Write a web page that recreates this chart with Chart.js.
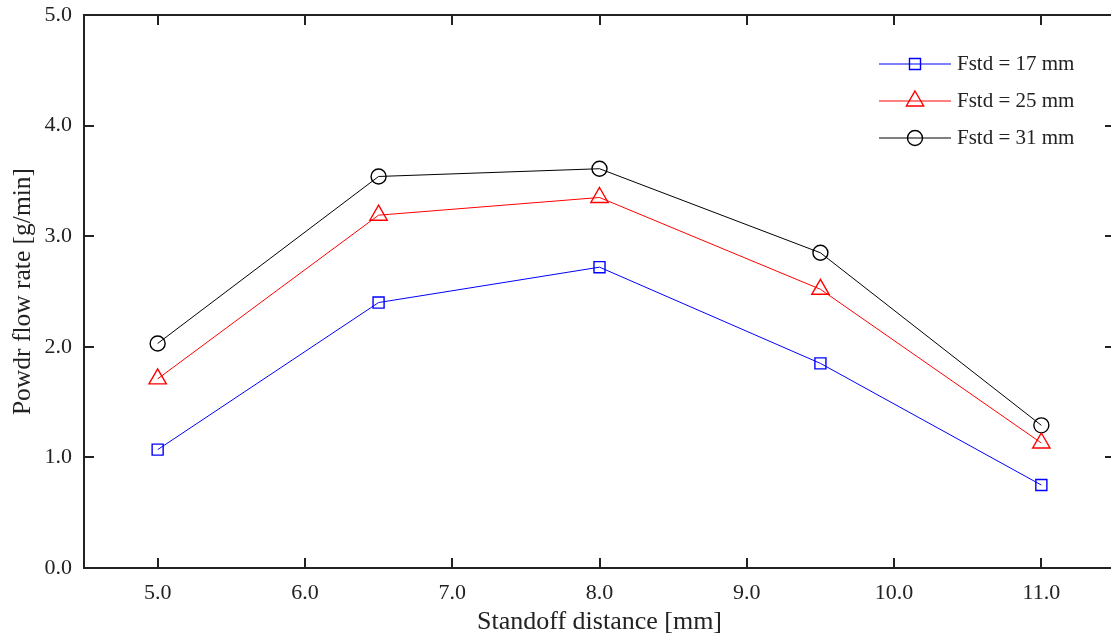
<!DOCTYPE html>
<html>
<head>
<meta charset="utf-8">
<script src="https://cdn.jsdelivr.net/npm/chart.js@4/dist/chart.umd.min.js"></script>
<style>
    html, body { margin: 0; padding: 0; background: #fff; overflow: hidden; }
    #wrap { width: 1111px; height: 639px; overflow: hidden; }
    canvas { display: block; }
</style>
</head>
<body>
<div id="wrap"><canvas id="chart" width="1120" height="639"></canvas></div>
<script>
// Data
const distances = [5.0, 6.5, 8.0, 9.5, 11.0];
const seriesLabels = ['Fstd = 17 mm', 'Fstd = 25 mm', 'Fstd = 31 mm'];
const fstd17 = [1.07, 2.40, 2.72, 1.85, 0.75];
const fstd25 = [1.71, 3.19, 3.35, 2.52, 1.13];
const fstd31 = [2.03, 3.54, 3.61, 2.85, 1.29];
const xTicks = [5, 6, 7, 8, 9, 10, 11];
const yTicks = [0, 1, 2, 3, 4, 5];

const SERIF = '"Liberation Serif", "Times New Roman", serif';
const INK = '#222';

function toPoints(vals) {
    return distances.map((x, i) => ({ x, y: vals[i] }));
}

// no automatic label padding, the plot box is fixed
function noPad(s) {
    s.paddingLeft = 0;
    s.paddingRight = 0;
    s.paddingTop = 0;
    s.paddingBottom = 0;
}

// frame + inward ticks on all four sides
const framePlugin = {
    id: 'frame',
    afterDraw(chart) {
        const { ctx, chartArea: a, scales } = chart;
        ctx.save();
        ctx.strokeStyle = INK;
        ctx.lineWidth = 2;
        ctx.strokeRect(a.left, a.top, a.right - a.left, a.bottom - a.top);
        ctx.beginPath();
        xTicks.forEach(v => {
            const px = Math.round(scales.x.getPixelForValue(v));
            ctx.moveTo(px, a.bottom); ctx.lineTo(px, a.bottom - 10);
            ctx.moveTo(px, a.top); ctx.lineTo(px, a.top + 10);
        });
        yTicks.forEach(v => {
            const py = Math.round(scales.y.getPixelForValue(v));
            ctx.moveTo(a.left, py); ctx.lineTo(a.left + 10, py);
            ctx.moveTo(a.right, py); ctx.lineTo(a.right - 10, py);
        });
        ctx.stroke();
        ctx.restore();
    }
};

// legend: line with marker in the middle, like the original
const legendPlugin = {
    id: 'lineLegend',
    afterDraw(chart) {
        const { ctx } = chart;
        const x0 = 879, x1 = 951, tx = 957;
        const rows = [64, 101, 138];
        ctx.save();
        chart.data.datasets.forEach((ds, i) => {
            const y = rows[i];
            ctx.strokeStyle = ds.borderColor;
            ctx.lineWidth = 1;
            ctx.beginPath();
            ctx.moveTo(x0, y); ctx.lineTo(x1, y);
            ctx.stroke();
            ctx.lineWidth = ds.pointBorderWidth;
            ctx.strokeStyle = ds.pointBorderColor;
            ctx.fillStyle = 'rgba(0,0,0,0)';
            Chart.helpers.drawPoint(ctx, { pointStyle: ds.pointStyle, radius: ds.pointRadius, rotation: 0, borderWidth: ds.pointBorderWidth }, (x0 + x1) / 2, y);
            ctx.fillStyle = INK;
            ctx.font = '21px ' + SERIF;
            ctx.textBaseline = 'middle';
            ctx.textAlign = 'left';
            ctx.fillText(ds.label, tx, y);
        });
        ctx.restore();
    }
};

function makeSet(label, vals, color, style, radius) {
    return {
        label,
        data: toPoints(vals),
        borderColor: color,
        borderWidth: 1,
        pointStyle: style,
        pointRadius: radius,
        pointHoverRadius: radius,
        pointBorderColor: color,
        pointBackgroundColor: 'rgba(0,0,0,0)',
        pointBorderWidth: 1.4,
        tension: 0
    };
}

new Chart(document.getElementById('chart'), {
    type: 'line',
    data: {
        datasets: [
            makeSet(seriesLabels[0], fstd17, '#0000ff', 'rect', 7.8),
            makeSet(seriesLabels[1], fstd25, '#ff0000', 'triangle', 10),
            makeSet(seriesLabels[2], fstd31, '#000000', 'circle', 7.5)
        ]
    },
    options: {
        responsive: false,
        animation: false,
        layout: { autoPadding: false, padding: { top: 15, right: 5, left: 0, bottom: 0 } },
        plugins: { legend: { display: false }, tooltip: { enabled: false } },
        scales: {
            x: {
                type: 'linear',
                min: 4.5,
                max: 11.5,
                grid: { display: false, drawTicks: false },
                border: { display: false },
                afterBuildTicks: s => { s.ticks = xTicks.map(v => ({ value: v })); },
                afterFit: s => { s.height = 71; noPad(s); },
                ticks: {
                    color: INK,
                    padding: 12,
                    font: { family: SERIF, size: 22 },
                    callback: v => v.toFixed(1)
                },
                title: {
                    display: true,
                    text: 'Standoff distance [mm]',
                    color: INK,
                    font: { family: SERIF, size: 26 },
                    padding: { top: 0, bottom: 1 }
                }
            },
            y: {
                min: 0,
                max: 5,
                grid: { display: false, drawTicks: false },
                border: { display: false },
                afterBuildTicks: s => { s.ticks = yTicks.map(v => ({ value: v })); },
                afterFit: s => { s.width = 84; noPad(s); },
                ticks: {
                    color: INK,
                    padding: 12,
                    font: { family: SERIF, size: 22 },
                    callback: v => v.toFixed(1)
                },
                title: {
                    display: true,
                    text: 'Powdr flow rate [g/min]',
                    color: INK,
                    font: { family: SERIF, size: 25.5 },
                    padding: { top: 8, bottom: 0 }
                }
            }
        }
    },
    plugins: [framePlugin, legendPlugin]
});
</script>
</body>
</html>
